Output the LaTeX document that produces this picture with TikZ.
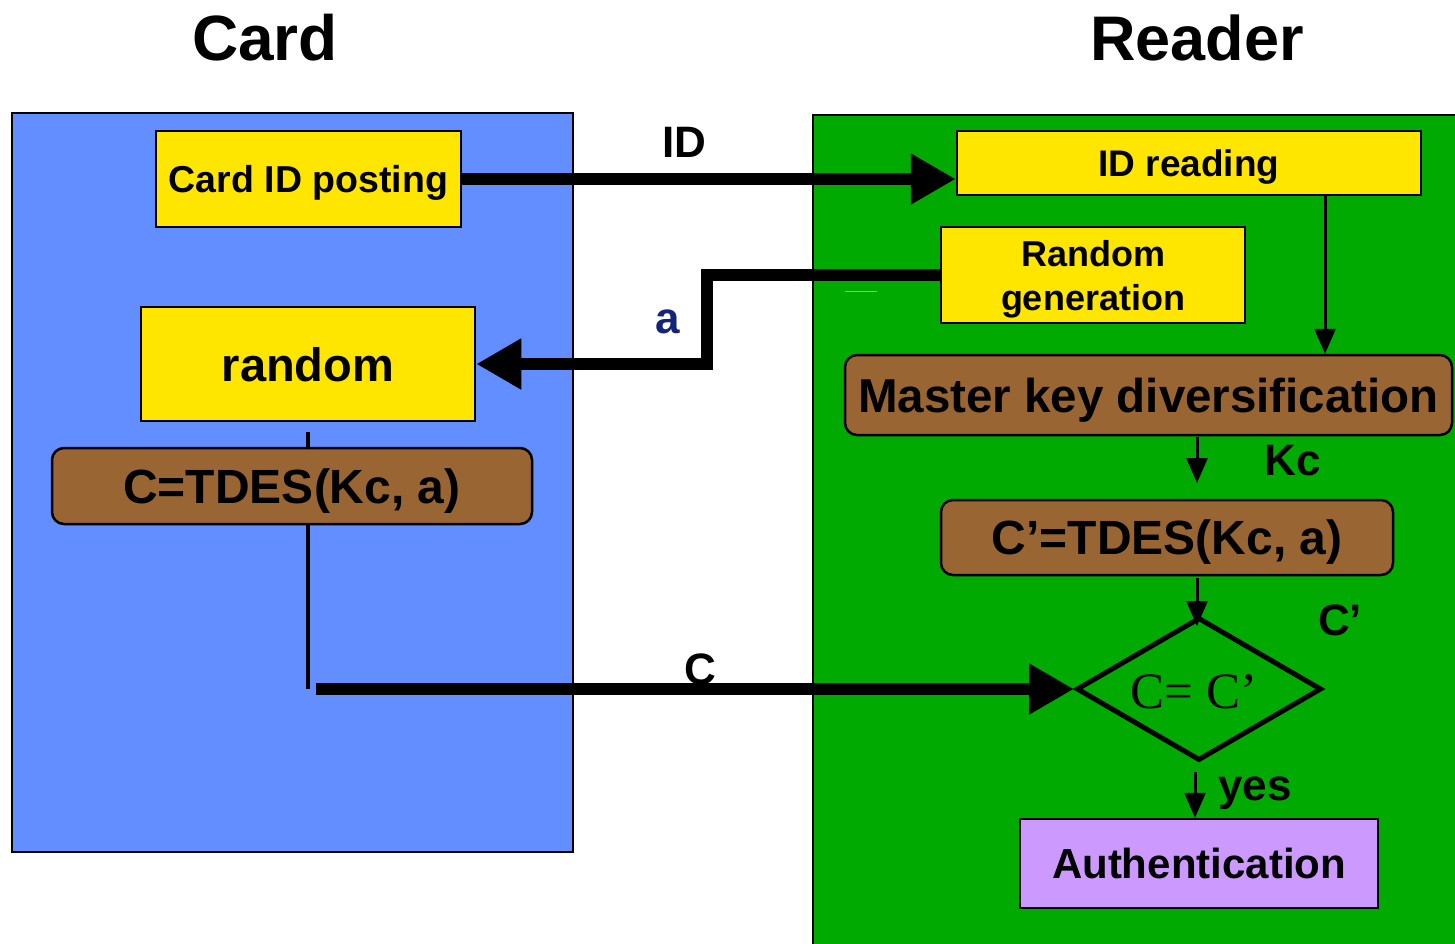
\documentclass[tikz,border=0pt]{standalone}
\usepackage{fontspec}
\setmainfont{Liberation Sans}
\newfontfamily\timesf{Liberation Serif}
\usetikzlibrary{arrows.meta,shapes.geometric}
\definecolor{cardblue}{RGB}{98,142,255}
\definecolor{readgreen}{RGB}{0,170,0}
\definecolor{ylw}{RGB}{255,230,0}
\definecolor{brn}{RGB}{153,102,51}
\definecolor{lilac}{RGB}{204,153,255}
\definecolor{navy}{RGB}{22,36,120}
\newcommand{\myfs}[2][0]{\fontsize{#2}{#2}\selectfont}
\begin{document}
\begin{tikzpicture}[x=1pt,y=-1pt,
  box/.style={draw=black,line width=2.5pt,inner sep=0pt,text depth=0pt},
  ybox/.style={box,fill=ylw},
  bbox/.style={box,fill=brn,rounded corners=12pt},
  pbox/.style={box,fill=lilac},
  panel/.style={draw=black,line width=2pt},
  bigarrow/.style={line width=12pt,-{Triangle[length=45pt,width=48pt]}},
  thinarrow/.style={line width=3pt,-{Triangle[length=25pt,width=21pt]}},
  lbl/.style={font=\bfseries\myfs{44},anchor=base,inner sep=0pt}]
\useasboundingbox (0,0) rectangle (1455,943);
\clip (0,0) rectangle (1455,943);
\fill[white] (0,0) rectangle (1455,943);
% panels
\draw[panel,fill=cardblue] (12,113) rectangle (573,852);
\draw[panel,fill=readgreen] (813,115) rectangle (1470,960);
% titles
\node[lbl,font=\bfseries\myfs{64}] (tcard) at (265,60) {Card};
\node[lbl,font=\bfseries\myfs{63}] (treader) at (1197,60) {Reader};
% vertical line in card
\coordinate (vtop) at (308,432);
\coordinate (vbot) at (308,689);
\draw[line width=4.5pt] (vtop) -- (vbot);
% nodes
\node[ybox,minimum width=305pt,minimum height=96pt,font=\bfseries\myfs{37.5}] (cid) at (308.5,179) {Card ID posting};
\node[ybox,minimum width=334pt,minimum height=114pt,font=\bfseries\myfs{47}] (rnd) at (308,364) {random};
\node[bbox,minimum width=480pt,minimum height=76pt,font=\bfseries\myfs{48}] (ctd) at (292,486) {C=TDES(Kc, a)};
\node[ybox,minimum width=464pt,minimum height=64pt,font=\bfseries\myfs{37}] (idr) at (1189,163) {ID reading};
\node[ybox,minimum width=304pt,minimum height=96pt,align=center,font=\bfseries\fontsize{36}{44}\selectfont] (rg) at (1093,275) {Random\\generation};
\node[bbox,minimum width=607pt,minimum height=80pt,font=\bfseries\myfs{47.5}] (mk) at (1148.5,395) {Master key diversification};
\node[bbox,minimum width=452pt,minimum height=75pt,font=\bfseries\myfs{48}] (c2) at (1167,537.5) {C’=TDES(Kc, a)};
\node[draw=black,line width=5pt,shape=diamond,aspect=1.7,minimum width=245pt,minimum height=143pt,inner sep=0pt] (dia) at (1199,689) {};
\node[font=\timesf\myfs{51},anchor=base,inner sep=0pt] (diat) at (1194,708) {C= C’};
\node[pbox,minimum width=358pt,minimum height=89pt,font=\bfseries\myfs{42}] (auth) at (1199,863.5) {Authentication};
% connectors
\draw[bigarrow] (cid.east) -- (cid.east -| idr.west);
\draw[bigarrow] (rg.west) -- ++(-233,0) |- (rnd.east);
\coordinate (cstart) at (316,689);
\draw[bigarrow] (cstart) -- (dia.west);
\coordinate (m1) at (1325,195);
\draw[thinarrow] (m1) -- (m1 |- mk.north);
\coordinate (k1) at (1197,437);
\coordinate (k2) at (1197,483);
\draw[thinarrow] (k1) -- (k2);
\coordinate (q1) at (1197,578);
\coordinate (q2) at (1197,626);
\draw[thinarrow] (q1) -- (q2);
\coordinate (y1) at (1195,772);
\draw[thinarrow] (y1) -- (y1 |- auth.north);
% faint artifact line
\draw[gray!70,line width=1pt] (845,291) -- (877,291);
% labels
\node[lbl] (lid) at (684,157) {ID};
\node[lbl,text=navy] (la) at (668,333) {a};
\node[lbl] (lc) at (700,684) {C};
\node[lbl] (lkc) at (1293,475) {Kc};
\node[lbl] (lcp) at (1340,635) {C’};
\node[lbl] (lyes) at (1255,800) {yes};
\end{tikzpicture}
\end{document}
